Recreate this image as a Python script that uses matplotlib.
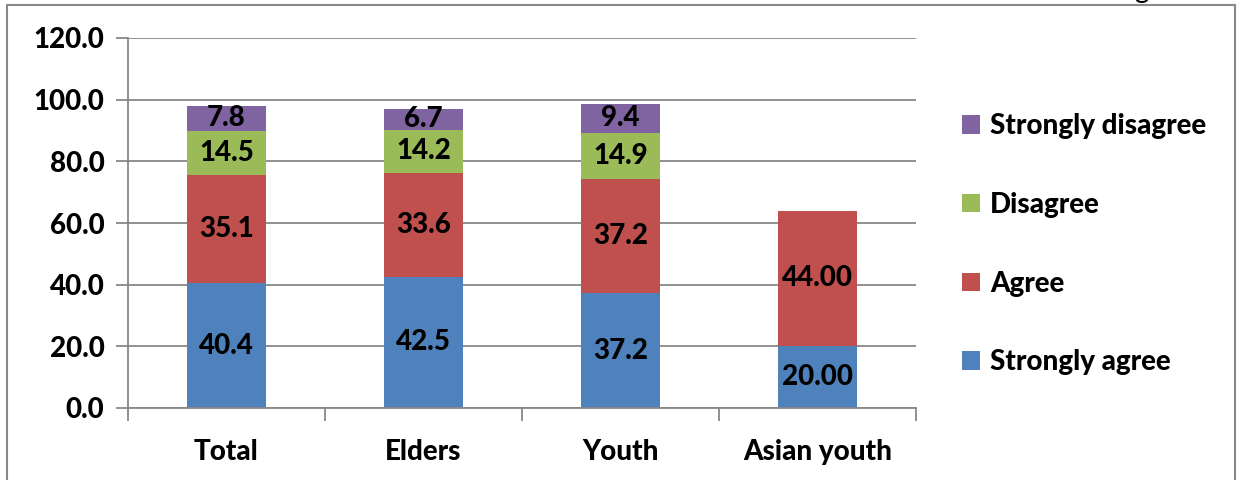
import matplotlib
matplotlib.use("Agg")
import matplotlib.pyplot as plt
from matplotlib.patches import Rectangle, Patch

categories = ["Total", "Elders", "Youth", "Asian youth"]
strongly_agree = [40.4, 42.5, 37.2, 20.00]
agree = [35.1, 33.6, 37.2, 44.00]
disagree = [14.5, 14.2, 14.9, 0.0]
strongly_disagree = [7.8, 6.7, 9.4, 0.0]
label_formats = ["{:.1f}", "{:.1f}", "{:.1f}", "{:.2f}"]
series_names = ["Strongly agree", "Agree", "Disagree", "Strongly disagree"]
colors = ["#4F81BD", "#C0504D", "#9BBB59", "#8064A2"]
yticks = [0, 20, 40, 60, 80, 100, 120]

plt.rcParams["font.family"] = ["Lato", "DejaVu Sans"]
W = 900
FS = 20

fig = plt.figure(figsize=(12.41, 4.8), dpi=100)
ax = fig.add_axes([128/1241, 72/480, 788/1241, 370/480])

series = [strongly_agree, agree, disagree, strongly_disagree]
x = list(range(len(categories)))
bottoms = [0.0]*len(categories)
handles = []
for vals, col, name in zip(series, colors, series_names):
    ax.bar(x, vals, width=0.40, bottom=bottoms, color=col, zorder=3)
    for i, (b, v) in enumerate(zip(bottoms, vals)):
        if v > 0:
            ax.text(i, b + v/2, label_formats[i].format(v), ha="center", va="center",
                    fontsize=FS, fontweight=W, color="black", zorder=4)
    bottoms = [b + v for b, v in zip(bottoms, vals)]
    handles.append(Patch(facecolor=col, label=name))

ax.set_xlim(-0.5, 3.5)
ax.set_ylim(0, 120)
ax.set_yticks(yticks)
ax.set_yticklabels([f"{t:.1f}" for t in yticks], fontsize=FS, fontweight=W)
ax.set_xticks(x)
ax.set_xticklabels(categories, fontsize=FS, fontweight=W)
ax.tick_params(axis="x", which="major", length=0, pad=22)
ax.set_xticks([-0.5, 0.5, 1.5, 2.5, 3.5], minor=True)
ax.tick_params(axis="x", which="minor", length=9, width=1.3, color="#888888")
ax.tick_params(axis="y", length=9, width=1.3, color="#888888", pad=8)
ax.grid(axis="y", color="#888888", linewidth=1.3, zorder=0)
ax.set_axisbelow(True)
for s in ["top", "right"]:
    ax.spines[s].set_visible(False)
for s in ["left", "bottom"]:
    ax.spines[s].set_color("#888888")
    ax.spines[s].set_linewidth(1.3)
ax.spines["bottom"].set_zorder(5)

leg = fig.legend(handles=handles[::-1], loc="upper left",
                 bbox_to_anchor=(951/1241, 1 - 102/480), frameon=False,
                 prop={"size": FS, "weight": W}, handlelength=0.65, handleheight=0.65,
                 handletextpad=0.35, labelspacing=1.9, borderaxespad=0)

# outer frame
fig.patches.append(Rectangle((7/1241, -0.1), (1235-7)/1241, 1.1 - 5/480,
                             transform=fig.transFigure, fill=False,
                             edgecolor="#888888", linewidth=1.5))
# clipped fragment of text above the frame
fig.text(1141/1241, 1 + 2/480, "g", ha="center", va="baseline", fontsize=FS)

fig.savefig("out.png", dpi=100)
